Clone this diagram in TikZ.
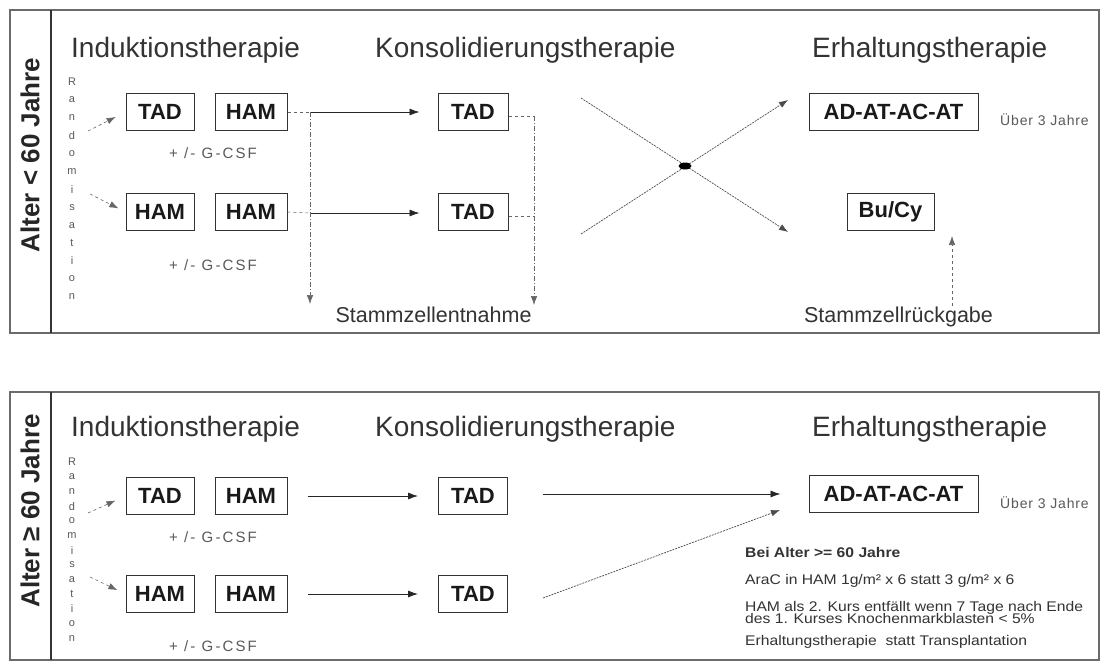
\documentclass[tikz,border=0pt]{standalone}
\usepackage{fontspec}
\setmainfont{Liberation Sans}
\newfontfamily\gf[LetterSpace=14]{Liberation Sans}
\newfontfamily\uf[LetterSpace=6]{Liberation Sans}
\newfontfamily\nf[FakeStretch=1.12]{Liberation Sans}
\usetikzlibrary{arrows.meta,shapes.geometric}
\definecolor{txtc}{gray}{0.2}
\definecolor{ltc}{gray}{0.35}
\definecolor{framec}{gray}{0.42}
\tikzset{
 box/.style={draw=black!80, line width=1pt, inner sep=0pt, minimum height=37pt, font=\fontsize{22}{24}\selectfont\bfseries, text=black!90},
 head/.style={anchor=base west, inner sep=0pt, text=txtc, font=\fontsize{28}{32}\selectfont},
 gcsf/.style={anchor=base, inner sep=0pt, text=ltc, font=\gf\fontsize{15}{17}\selectfont},
 lbl/.style={anchor=base, inner sep=0pt, text=txtc, font=\fontsize{21.5}{24}\selectfont},
 small/.style={anchor=base west, inner sep=0pt, text=ltc, font=\uf\fontsize{14}{16}\selectfont},
 rlet/.style={inner sep=0pt, text=black!65, font=\fontsize{11}{12}\selectfont},
 side/.style={rotate=90, inner sep=0pt, text=black!85, font=\fontsize{26}{30}\selectfont\bfseries},
 arr/.style={-{Latex[length=10pt,width=7pt]}, line width=0.8pt, draw=black!85},
 tarr/.style={-{Latex[length=9pt,width=6.5pt]}, line width=0.6pt, draw=black!80},
 dd/.style={line width=0.6pt, draw=black!60, dash pattern=on 5pt off 2pt on 1pt off 2pt},
 dsh/.style={line width=0.6pt, draw=black!60, dash pattern=on 3pt off 3pt},
 dot/.style={line width=0.7pt, draw=black!70, dash pattern=on 2pt off 1pt},
 frame/.style={draw=framec, line width=1.2pt},
 note/.style={anchor=base west, inner sep=0pt, text=txtc, font=\nf\fontsize{14}{15}\selectfont},
}
\begin{document}
\begin{tikzpicture}[x=1pt,y=-1pt]
\useasboundingbox[fill=white] (0,0) rectangle (1102,662);

% ---------------- top panel ----------------
\draw[frame] (10,10) rectangle (1099,333);
\draw[line width=2.5pt, draw=black!80] (51,10) -- (51,333);
\node[side] (age1) at (30,155) {Alter < 60 Jahre};

\node[head] (ind1) at (71,57) {Induktionstherapie};
\node[head] (kon1) at (375,57) {Konsolidierungstherapie};
\node[head] (erh1) at (812,57) {Erhaltungstherapie};

\foreach \l [count=\i from 0] in {R,a,n,d,o,m,i,s,a,t,i,o,n}
  \node[rlet] (ra\i) at (72,{82+17.9*\i}) {\l};

\node[box, minimum width=68pt] (tad1) at (160,112) {TAD};
\node[box, minimum width=72pt] (ham1) at (251,112) {HAM};
\node[box, minimum width=68pt] (ham2) at (160,212) {HAM};
\node[box, minimum width=72pt] (ham3) at (251,212) {HAM};
\node[gcsf] (g1) at (213,158) {+ /- G-CSF};
\node[gcsf] (g2) at (213,270) {+ /- G-CSF};

\coordinate (rs1) at (88,131);
\coordinate (rs2) at (90,194);
\draw[tarr, dsh, shorten >=11pt] (rs1) -- (tad1.west);
\draw[tarr, dsh, shorten >=8pt] (rs2) -- (ham2.west);

\node[box, minimum width=70pt] (tadc1) at (473,112) {TAD};
\node[box, minimum width=70pt] (tadc2) at (473,212) {TAD};

\coordinate (j1) at (310,112);
\coordinate (j2) at (310,213);
\coordinate (s1) at (310,304);
\draw[dsh] (ham1.east) -- (j1);
\draw[dsh] (ham3.east) -- (j2);
\draw[arr, shorten >=18pt] (j1) -- (tadc1.west);
\draw[arr, shorten >=18pt] (j2) -- (tadc2.west |- j2);
\draw[tarr, dd] (j1) -- (s1);

\coordinate (k1) at (534,116);
\coordinate (k2) at (534,216);
\coordinate (s2) at (534,305);
\draw[dsh] (tadc1.east |- k1) -- (k1);
\draw[dsh] (tadc2.east |- k2) -- (k2);
\draw[tarr, dd] (k1) -- (s2);
\node[lbl] (entn) at (433.5,322) {Stammzellentnahme};

\node[box, minimum width=169pt] (adat1) at (893.5,112) {AD-AT-AC-AT};
\node[small] (ueb1) at (1000,125) {Über 3 Jahre};
\node[box, minimum width=87pt] (bucy) at (890.5,212) {Bu/Cy};

\coordinate (c1) at (581,98);
\coordinate (c2) at (581,234);
\coordinate (e1) at (788,100);
\coordinate (e2) at (788,232);
\draw[tarr, dot] (c1) -- (e2);
\draw[tarr, dot] (c2) -- (e1);
\node[ellipse, fill=black, inner sep=0pt, minimum width=13pt, minimum height=7pt] (x) at (685,166) {};

\node[lbl] (rueck) at (898.5,322) {Stammzellrückgabe};
\coordinate (r0) at (952,306);
\coordinate (r1) at (952,236);
\draw[tarr, dsh] (r0) -- (r1);

% ---------------- bottom panel ----------------
\draw[frame] (10,392) rectangle (1099,660);
\draw[line width=2.5pt, draw=black!80] (51,392) -- (51,660);
\node[side] (age2) at (30,511) {Alter ≥ 60 Jahre};

\node[head] (ind2) at (71,436) {Induktionstherapie};
\node[head] (kon2) at (375,436) {Konsolidierungstherapie};
\node[head] (erh2) at (812,436) {Erhaltungstherapie};

\foreach \l [count=\i from 0] in {R,a,n,d,o,m,i,s,a,t,i,o,n}
  \node[rlet] (rb\i) at (72,{462+14.7*\i}) {\l};

\node[box, minimum width=68pt] (tadb1) at (160,496) {TAD};
\node[box, minimum width=72pt] (hamb1) at (251,496) {HAM};
\node[box, minimum width=68pt] (hamb2) at (160,594) {HAM};
\node[box, minimum width=72pt] (hamb3) at (251,594) {HAM};
\node[gcsf] (g3) at (213,542) {+ /- G-CSF};
\node[gcsf] (g4) at (213,651) {+ /- G-CSF};

\coordinate (rs3) at (88,513);
\coordinate (rs4) at (90,577);
\draw[tarr, dsh, shorten >=11pt] (rs3) -- (tadb1.west);
\draw[tarr, dsh, shorten >=9pt] (rs4) -- (hamb2.west);

\node[box, minimum width=69pt] (tadb3) at (473,496) {TAD};
\node[box, minimum width=69pt] (tadb4) at (473,594) {TAD};
\draw[arr, shorten <=20pt, shorten >=20pt] (hamb1.east) -- (tadb3.west);
\draw[arr, shorten <=20pt, shorten >=20pt] (hamb3.east) -- (tadb4.west);

\node[box, minimum width=169pt] (adat2) at (893.5,494) {AD-AT-AC-AT};
\node[small] (ueb2) at (1000,508) {Über 3 Jahre};

\draw[arr, shorten <=35pt, shorten >=28pt] (tadb3.east |- adat2) -- (adat2.west);
\coordinate (t4) at (543,598);
\coordinate (t5) at (780,510);
\draw[tarr, dot] (t4) -- (t5);

\node[note, font=\nf\fontsize{14}{15}\selectfont\bfseries] (n1) at (745,557) {Bei Alter >= 60 Jahre};
\node[note] (n2) at (745,584) {AraC in HAM 1g/m² x 6 statt 3 g/m² x 6};
\node[note] (n3) at (745,611) {HAM als 2. Kurs entfällt wenn 7 Tage nach Ende};
\node[note] (n4) at (745,623) {des 1. Kurses Knochenmarkblasten < 5\%};
\node[note] (n5) at (745,645) {Erhaltungstherapie \ statt Transplantation};
\end{tikzpicture}
\end{document}
